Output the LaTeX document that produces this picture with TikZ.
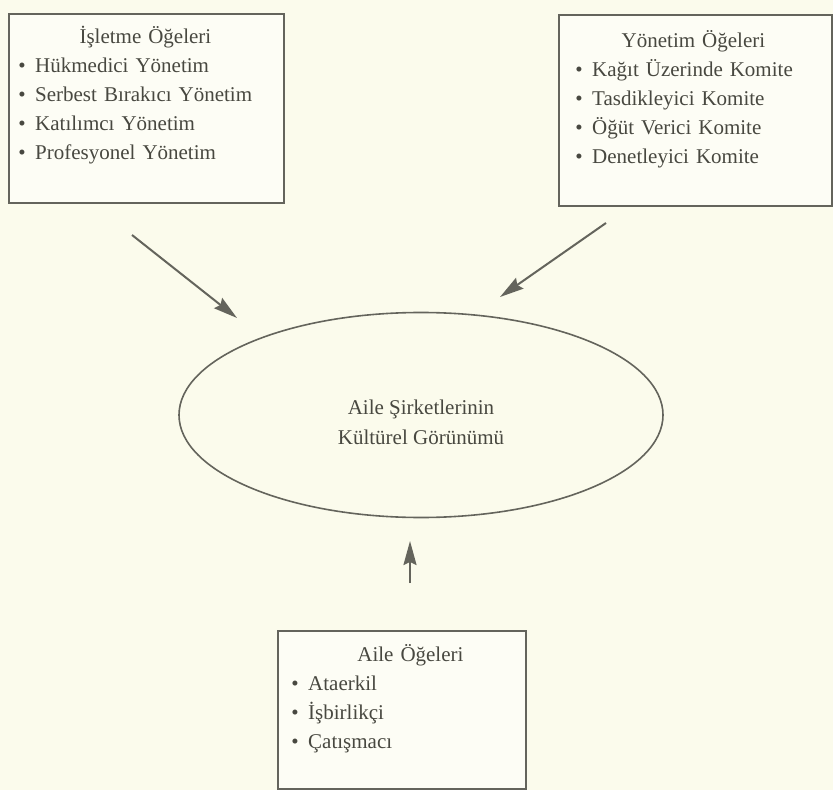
\documentclass[tikz,border=0pt]{standalone}
\usepackage{fontspec}
\setmainfont{Liberation Serif}
\usepackage{xcolor}
\usepackage{tikz}
\usetikzlibrary{arrows.meta, shapes.geometric, positioning}

\definecolor{paper}{RGB}{251,251,236}
\definecolor{boxin}{RGB}{253,253,245}
\definecolor{ink}{RGB}{72,72,64}
\definecolor{lineg}{RGB}{100,100,92}

\newcommand{\ogeitem}{•\hspace{0.45em}}

\begin{document}
\begin{tikzpicture}[x=0.5pt, y=-0.5pt,
  ogebox/.style={draw=lineg, line width=1pt, fill=boxin, inner sep=0pt, anchor=north west},
  ogelist/.style={anchor=north west, inner sep=0pt, text=ink, font=\fontsize{10.5}{14.5}\selectfont},
  ogearrow/.style={draw=lineg, line width=1pt, -{Stealth[length=12pt, width=6.5pt, inset=1.5pt]}}]
  \fill[paper] (0,0) rectangle (833,790);
  \useasboundingbox (0,0) rectangle (833,790);

  \node[ogebox, minimum width=137.5pt, minimum height=94.5pt] (isletme) at (8,13) {};
  \node[ogelist, text width=127pt] (isletmetxt) at (18,23)
    {{\centering\strut İşletme Öğeleri\par}\raggedright
     \ogeitem Hükmedici Yönetim\\ \ogeitem Serbest Bırakıcı Yönetim\\
     \ogeitem Katılımcı Yönetim\\ \ogeitem Profesyonel Yönetim};

  \node[ogebox, minimum width=136.5pt, minimum height=95.5pt] (yonetim) at (558,14) {};
  \node[ogelist, text width=118pt] (yonetimtxt) at (575,27)
    {{\centering\strut Yönetim Öğeleri\par}\raggedright
     \ogeitem Kağıt Üzerinde Komite\\ \ogeitem Tasdikleyici Komite\\
     \ogeitem Öğüt Verici Komite\\ \ogeitem Denetleyici Komite};

  \node[ogebox, minimum width=124pt, minimum height=79pt] (aile) at (277,630) {};
  \node[ogelist, text width=119pt] (ailetxt) at (291,641)
    {{\centering\strut Aile Öğeleri\par}\raggedright
     \ogeitem Ataerkil\\ \ogeitem İşbirlikçi\\ \ogeitem Çatışmacı};

  \node[ellipse, draw=lineg, line width=0.8pt, minimum width=242pt, minimum height=102.5pt, inner sep=0pt,
        label={[align=center, text=ink, font=\fontsize{10.5}{15}\selectfont, yshift=-3.5pt]center:Aile Şirketlerinin\\ Kültürel Görünümü}]
        (kultur) at (421,415) {};

  \coordinate (isletmeout) at (132,235);
  \coordinate (isletmein) at (237,318);
  \coordinate (yonetimout) at (606,223);
  \coordinate (yonetimin) at (500,297);
  \coordinate (aileout) at (410,583);
  \coordinate (ailein) at (410,541);

  \draw[ogearrow] (isletmeout) -- (isletmein);
  \draw[ogearrow] (yonetimout) -- (yonetimin);
  \draw[ogearrow] (aileout) -- (ailein);
\end{tikzpicture}
\end{document}
